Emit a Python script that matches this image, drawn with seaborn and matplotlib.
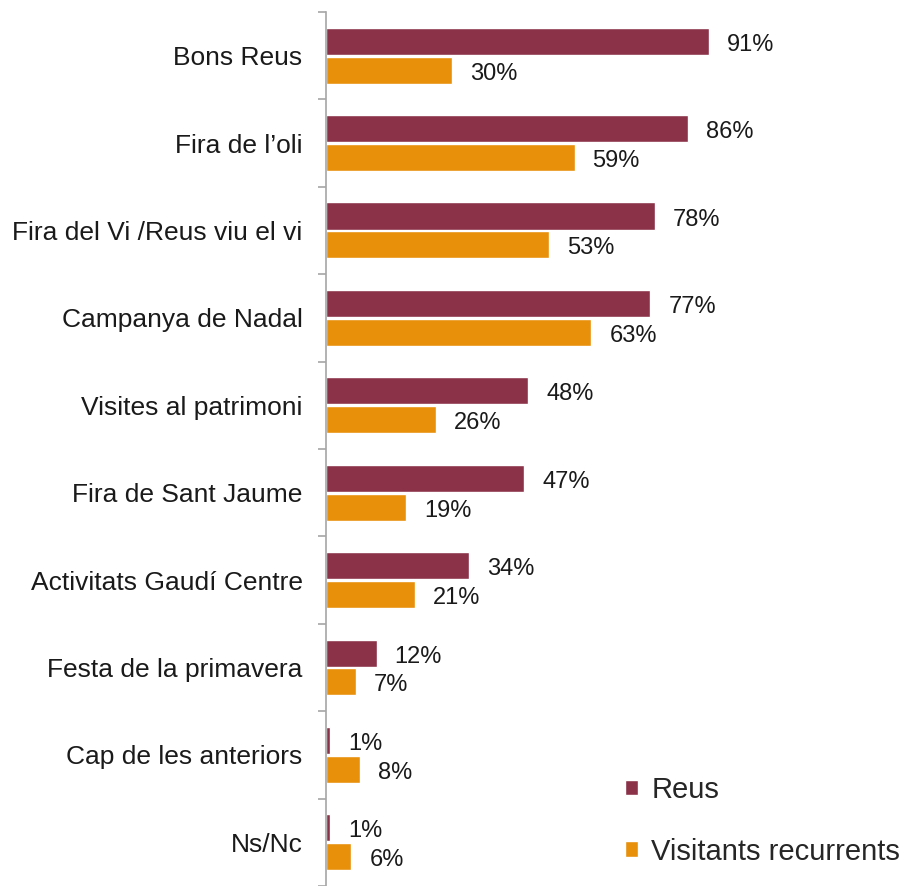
import pandas as pd
import numpy as np
import matplotlib.pyplot as plt
import seaborn as sns

# Data
categories = ["Bons Reus", "Fira de l\u2019oli", "Fira del Vi /Reus viu el vi",
              "Campanya de Nadal", "Visites al patrimoni", "Fira de Sant Jaume",
              "Activitats Gaud\u00ed Centre", "Festa de la primavera",
              "Cap de les anteriors", "Ns/Nc"]
reus = [91, 86, 78, 77, 48, 47, 34, 12, 1, 1]
visitants = [30, 59, 53, 63, 26, 19, 21, 7, 8, 6]
series = ["Reus", "Visitants recurrents"]
colors = ["#8B3249", "#E8900A"]

df = pd.DataFrame({
    "Categoria": categories * 2,
    "Valor": reus + visitants,
    "Grup": [series[0]] * len(categories) + [series[1]] * len(categories),
})

sns.set_style("white")
plt.rcParams["font.family"] = ["Liberation Sans", "DejaVu Sans"]

fig = plt.figure(figsize=(9.06, 8.86), dpi=100)
ax = fig.add_axes([0.36, 0.0, 0.64, 0.9865])

sns.barplot(data=df, y="Categoria", x="Valor", hue="Grup", order=categories,
            hue_order=series, palette=colors, orient="h", width=0.66, gap=0.06,
            saturation=1, ax=ax, legend=True)

# Labels on bars (a touch below bar centre, like the original)
for cont in ax.containers:
    anns = ax.bar_label(cont, labels=[f"{int(round(v))}%" for v in cont.datavalues],
                        padding=13, fontsize=17, color="#1a1a1a")
    for a in anns:
        a.xyann = (13, -2.5)

# Axes styling
px_per_pct = 4.21
ax.set_xlim(0, ax.bbox.width / px_per_pct)
ax.set_ylim(len(categories) - 0.5, -0.5)
ax.set_xlabel("")
ax.set_ylabel("")
ax.set_xticks([])
for s in ["top", "right", "bottom"]:
    ax.spines[s].set_visible(False)
ax.spines["left"].set_color("#A6A6A6")
ax.spines["left"].set_linewidth(1.2)
ax.tick_params(axis="y", which="major", length=0, pad=17, labelsize=19,
               labelcolor="#1a1a1a")
ax.set_yticks(np.arange(-0.5, len(categories), 1.0), minor=True)
ax.tick_params(axis="y", which="minor", left=True, length=6, width=1.2,
               color="#A6A6A6", direction="out")

# Legend
handles, labels = ax.get_legend_handles_labels()
ax.legend_.remove()
fig.legend(handles, labels, loc="lower right", bbox_to_anchor=(1.016, 0.0),
           frameon=False, fontsize=21, handlelength=0.45, handleheight=0.45,
           handletextpad=0.45, labelspacing=1.15, borderaxespad=0.3)

fig.savefig("out.png", dpi=100)
